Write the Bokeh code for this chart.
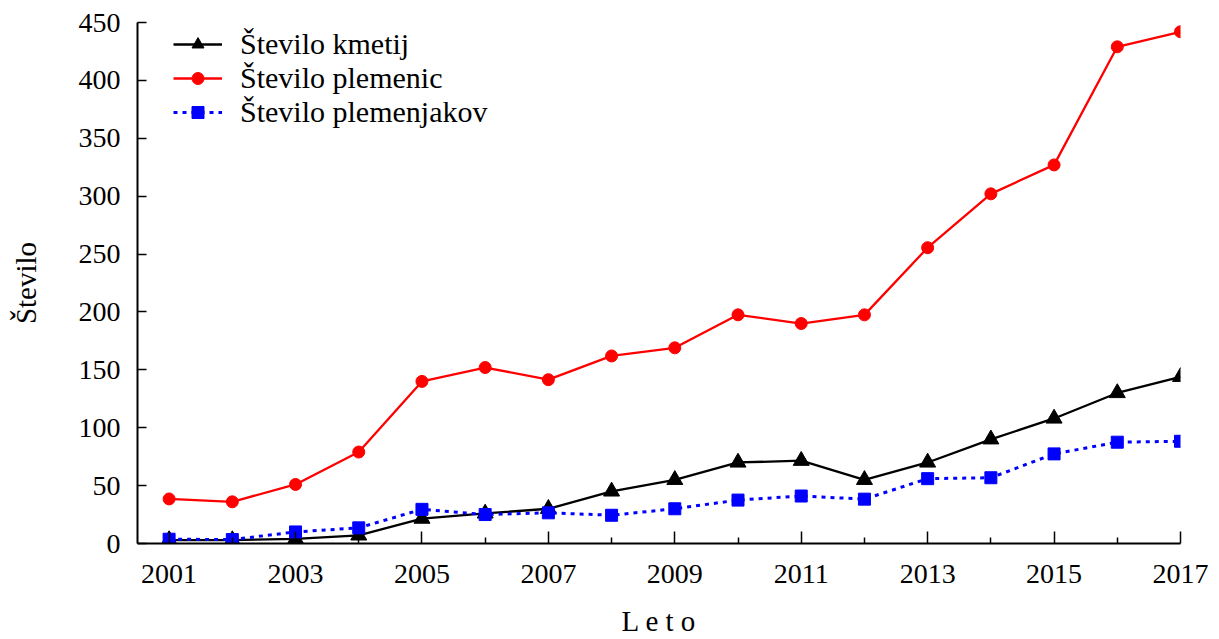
from bokeh.plotting import figure
from bokeh.models import FixedTicker, Range1d, Legend, LegendItem
from bokeh.embed import file_html
from bokeh.resources import INLINE

years = list(range(2001, 2018))
kmetij = [3, 3, 4, 7, 21.5, 26, 30, 45, 55, 70, 71.5, 55, 70, 90, 108, 130, 144]
plemenic = [38.5, 36, 51, 79, 140, 152, 141.5, 162, 169, 197.5, 190, 197.5, 255.5, 302, 327, 429, 442]
plemenjakov = [3.7, 3.4, 10, 13.5, 29.5, 25, 26.5, 24.4, 30, 37.5, 41, 38.3, 56, 56.8, 77.4, 87.5, 88.3]

x_major = [2001, 2003, 2005, 2007, 2009, 2011, 2013, 2015, 2017]
x_minor = [2002, 2004, 2006, 2008, 2010, 2012, 2014, 2016]
y_ticks = [0, 50, 100, 150, 200, 250, 300, 350, 400, 450]

FONT = "Liberation Serif"

p = figure(width=1211, height=639, output_backend="svg", toolbar_location=None,
           x_range=Range1d(2000.5, 2017), y_range=Range1d(0, 450),
           min_border_left=137, min_border_right=31, min_border_top=22, min_border_bottom=94)
p.outline_line_color = None
p.grid.visible = False
p.background_fill_color = "white"

r1l = p.line(years, kmetij, line_color="black", line_width=2.3)
r1m = p.scatter(years, kmetij, marker="triangle", size=16, color="black")
r2l = p.line(years, plemenic, line_color="#ff0000", line_width=2.3)
r2m = p.scatter(years, plemenic, marker="circle", size=12, color="#ff0000")
r3l = p.line(years, plemenjakov, line_color="#0000ff", line_width=3, line_dash="4 5")
r3m = p.scatter(years, plemenjakov, marker="square", size=12, color="#0000ff")

p.xaxis.ticker = FixedTicker(ticks=x_major, minor_ticks=x_minor)
p.yaxis.ticker = FixedTicker(ticks=y_ticks)
for ax in (p.xaxis[0], p.yaxis[0]):
    ax.axis_line_width = 2
    ax.axis_line_color = "black"
    ax.major_tick_line_width = 1.5
    ax.minor_tick_line_width = 1.5
    ax.major_tick_out = 0
    ax.minor_tick_out = 0
    ax.major_label_text_font = FONT
    ax.major_label_text_font_size = "28px"
    ax.major_label_text_color = "black"
    ax.axis_label_text_font = FONT
    ax.axis_label_text_font_size = "29px"
    ax.axis_label_text_font_style = "normal"
    ax.axis_label_text_color = "black"

p.xaxis.major_tick_in = 12
p.xaxis.minor_tick_in = 6
p.xaxis.major_label_standoff = 21
p.xaxis.axis_label = "L e t o"
p.xaxis.axis_label_standoff = 19
p.yaxis.major_tick_in = 9
p.yaxis.minor_tick_in = 0
p.yaxis.major_label_standoff = 17
p.yaxis.axis_label = "Število"
p.yaxis.axis_label_standoff = 34

legend = Legend(items=[
    LegendItem(label="Število kmetij", renderers=[r1l, r1m]),
    LegendItem(label="Število plemenic", renderers=[r2l, r2m]),
    LegendItem(label="Število plemenjakov", renderers=[r3l, r3m]),
], location=(36, 414))
legend.background_fill_alpha = 0
legend.border_line_color = None
legend.padding = 0
legend.margin = 0
legend.spacing = -3
legend.glyph_width = 49
legend.glyph_height = 30
legend.label_height = 30
legend.label_standoff = 18
legend.label_text_font = FONT
legend.label_text_font_size = "30px"
legend.label_text_color = "black"
p.add_layout(legend)

open("out.html", "w").write(file_html(p, INLINE))
